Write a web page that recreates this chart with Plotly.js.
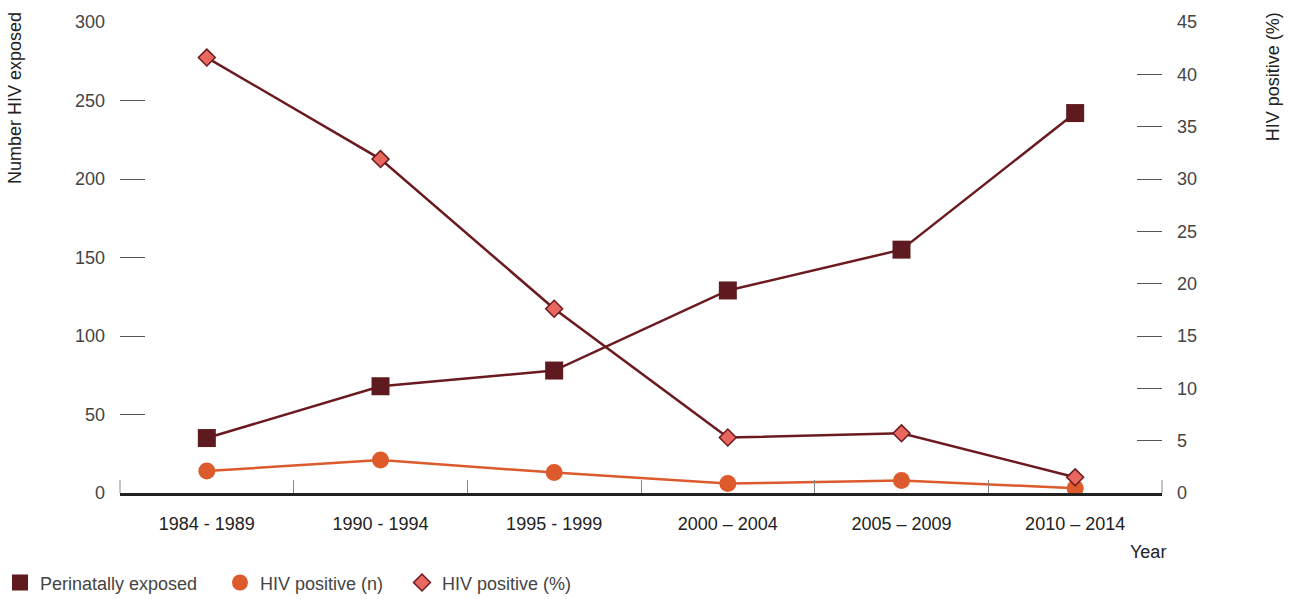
<!DOCTYPE html>
<html><head><meta charset="utf-8">
<script src="https://cdn.plot.ly/plotly-3.0.1.min.js"></script>
<style>body{margin:0;background:#fff}#chart{width:1291px;height:599px}</style>
</head><body><div id="chart"></div>
<script>
const categories = ["1984 - 1989","1990 - 1994","1995 - 1999","2000 – 2004","2005 – 2009","2010 – 2014"];
const perinatallyExposed = [35, 68, 78, 129, 155, 242];
const hivPositiveN = [14, 21, 13, 6, 8, 3];
const hivPositivePct = [41.6, 31.9, 17.6, 5.3, 5.7, 1.5];
const leftTicks = [0,50,100,150,200,250,300];
const rightTicks = [0,5,10,15,20,25,30,35,40,45];
const seriesNames = ["Perinatally exposed", "HIV positive (n)", "HIV positive (%)"];

const font = "Liberation Sans, Arial, sans-serif";
const dark = "#6b1a1f", orange = "#dc5a2b", pink = "#e8675f";
const traces = [
  {x: categories, y: perinatallyExposed, name: seriesNames[0], type: "scatter", mode: "lines+markers", showlegend: false,
   line: {color: dark, width: 2.5}, marker: {symbol: "square", size: 18, color: "#5e1a1f", line: {width: 0}}},
  {x: categories, y: hivPositiveN, name: seriesNames[1], type: "scatter", mode: "lines+markers", showlegend: false,
   line: {color: orange, width: 2.5}, marker: {symbol: "circle", size: 17, color: orange}},
  {x: categories, y: hivPositivePct, name: seriesNames[2], type: "scatter", mode: "lines+markers", yaxis: "y2", showlegend: false,
   line: {color: dark, width: 2.5}, marker: {symbol: "diamond", size: 13, color: pink, line: {color: dark, width: 1.5}}},
  // legend entries (markers only)
  {x: [null], y: [null], name: seriesNames[0], type: "scatter", mode: "markers", legend: "legend",
   marker: {symbol: "square", size: 18, color: "#5e1a1f"}},
  {x: [null], y: [null], name: seriesNames[1], type: "scatter", mode: "markers", legend: "legend2",
   marker: {symbol: "circle", size: 18, color: orange}},
  {x: [null], y: [null], name: seriesNames[2], type: "scatter", mode: "markers", legend: "legend3",
   marker: {symbol: "diamond", size: 13, color: pink, line: {color: dark, width: 1.5}}}
];
function leg(x) {
  return {orientation: "h", xref: "container", x: x, xanchor: "left", yref: "container", y: 0.027, yanchor: "middle",
          font: {size: 18, color: "#444"}, itemsizing: "trace", itemwidth: 30, bgcolor: "rgba(0,0,0,0)"};
}
const edgeTick = (xp) => ({type: "line", xref: "paper", yref: "paper", x0: xp, x1: xp, y0: 0, y1: 13/471,
                           line: {color: "#888", width: 1}});
const layout = {
  width: 1291, height: 599,
  margin: {l: 120, r: 129, t: 22, b: 106, autoexpand: false},
  paper_bgcolor: "#fff", plot_bgcolor: "#fff",
  font: {family: font, size: 18, color: "#444"},
  showlegend: true,
  legend: leg(0.0), legend2: leg(220/1291), legend3: leg(402/1291),
  xaxis: {type: "category", showgrid: false, zeroline: false, showline: true, linecolor: "#222", linewidth: 3,
          ticks: "inside", tickson: "boundaries", ticklen: 13, tickcolor: "#888", tickwidth: 1, ticklabelstandoff: 12,
          tickfont: {size: 18, color: "#222"}, range: [-0.5, 5.5], automargin: false},
  yaxis: {range: [0, 300], tickvals: leftTicks, showgrid: false, zeroline: false, showline: false, automargin: false,
          ticks: "inside", ticklen: 25, tickcolor: "#555", tickwidth: 1, ticklabelstandoff: 14,
          tickfont: {size: 18, color: "#444"}},
  yaxis2: {range: [0, 45], tickvals: rightTicks, overlaying: "y", side: "right", showgrid: false, zeroline: false, automargin: false,
           showline: false, ticks: "inside", ticklen: 25, tickcolor: "#555", tickwidth: 1, ticklabelstandoff: 14,
           tickfont: {size: 18, color: "#444"}},
  shapes: [edgeTick(0), edgeTick(1)],
  annotations: [
    {text: "Number HIV exposed", xref: "paper", yref: "paper", x: -0.101, y: 1.025, xanchor: "center", yanchor: "top",
     textangle: -90, showarrow: false, font: {size: 18, color: "#222"}},
    {text: "HIV positive (%)", xref: "paper", yref: "paper", x: 1.106, y: 1.025, xanchor: "center", yanchor: "top",
     textangle: -90, showarrow: false, font: {size: 18, color: "#222"}},
    {text: "Year", xref: "paper", yref: "paper", x: 0.987, y: -0.125, xanchor: "center", yanchor: "middle",
     showarrow: false, font: {size: 18, color: "#222"}}
  ]
};
Plotly.newPlot("chart", traces, layout, {staticPlot: true});
</script></body></html>
